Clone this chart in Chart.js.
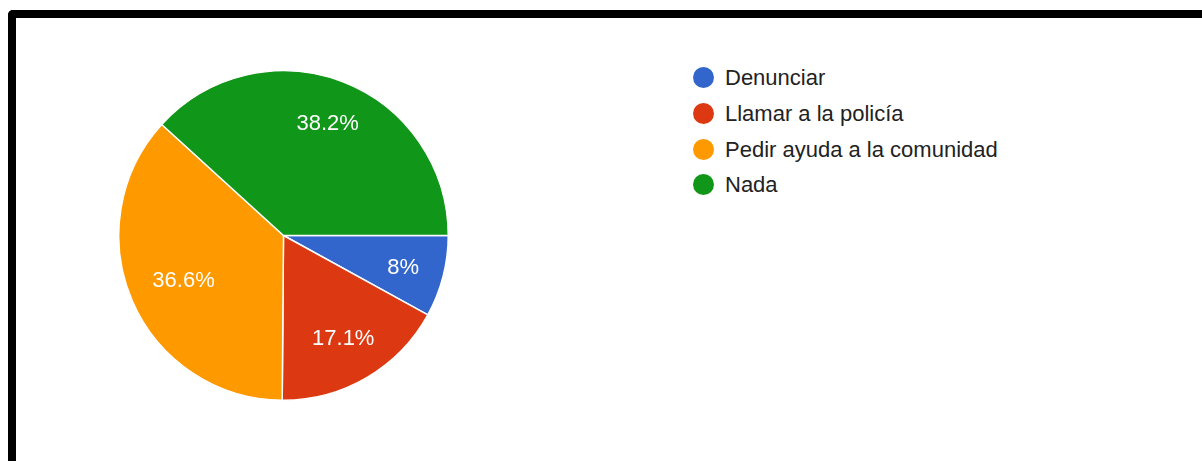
<!DOCTYPE html>
<html>
<head>
<meta charset="utf-8">
<script src="https://cdn.jsdelivr.net/npm/chart.js@4/dist/chart.umd.min.js"></script>
<style>
  html, body { margin: 0; padding: 0; background: #fff; width: 1202px; height: 461px; overflow: hidden; }
  #frame { position: absolute; left: 8px; top: 10px; width: 1300px; height: 500px;
           border-top: 8px solid #000; border-left: 8px solid #000; border-top-left-radius: 5px; box-sizing: border-box; }
  #pieWrap { position: absolute; left: 118px; top: 70px; width: 331px; height: 331px; }
  #legend { position: absolute; left: 692px; top: 60px; font-family: "Liberation Sans", Arial, sans-serif;
            font-size: 22px; color: #222; }
  .row { position: absolute; left: 0; height: 36px; white-space: nowrap; }
  .dot { position: absolute; left: 1px; top: 7px; width: 21px; height: 21px; border-radius: 50%; }
  .lbl { position: absolute; left: 33px; top: 0; line-height: 36px; }
</style>
</head>
<body>
<div id="frame"></div>
<div id="pieWrap"><canvas id="c"></canvas></div>
<div id="legend"></div>
<script>
const categories = ["Denunciar", "Llamar a la policía", "Pedir ayuda a la comunidad", "Nada"];
const values = [8.0, 17.1, 36.6, 38.2];
const valueLabels = ["8%", "17.1%", "36.6%", "38.2%"];
const colors = ["#3366cc", "#dc3912", "#ff9900", "#109618"];

// HTML legend built from the arrays
const legend = document.getElementById('legend');
const rowTops = [0, 35.5, 71.5, 107];
categories.forEach((name, i) => {
  const row = document.createElement('div');
  row.className = 'row';
  row.style.top = rowTops[i] + 'px';
  const dot = document.createElement('div');
  dot.className = 'dot';
  dot.style.background = colors[i];
  const lbl = document.createElement('div');
  lbl.className = 'lbl';
  lbl.textContent = name;
  row.appendChild(dot);
  row.appendChild(lbl);
  legend.appendChild(row);
});

const sliceLabels = {
  id: 'sliceLabels',
  afterDatasetsDraw(chart) {
    const ctx = chart.ctx;
    const meta = chart.getDatasetMeta(0);
    ctx.save();
    ctx.font = '22px "Liberation Sans", Arial, sans-serif';
    ctx.fillStyle = '#ffffff';
    ctx.textAlign = 'center';
    ctx.textBaseline = 'alphabetic';
    meta.data.forEach((arc, i) => {
      const p = arc.getProps(['x', 'y', 'startAngle', 'endAngle', 'outerRadius'], true);
      const mid = (p.startAngle + p.endAngle) / 2;
      const cx = Math.cos(mid), sy = Math.sin(mid);
      const txt = valueLabels[i];
      const w = ctx.measureText(txt).width;
      const h = 16;
      const proj = (w / 2) * Math.abs(cx) + (h / 2) * Math.abs(sy);
      const d = 0.855 * p.outerRadius - proj;
      const tx = p.x + cx * d;
      const ty = p.y + sy * d;
      ctx.fillText(txt, tx, ty + 8);
    });
    ctx.restore();
  }
};

new Chart(document.getElementById('c'), {
  type: 'pie',
  data: {
    labels: categories,
    datasets: [{
      data: values,
      backgroundColor: colors,
      borderColor: '#ffffff',
      borderWidth: 1.5
    }]
  },
  options: {
    responsive: true,
    maintainAspectRatio: false,
    animation: false,
    rotation: 90,
    layout: { padding: 0 },
    plugins: {
      legend: { display: false },
      tooltip: { enabled: false }
    }
  },
  plugins: [sliceLabels]
});
</script>
</body>
</html>
